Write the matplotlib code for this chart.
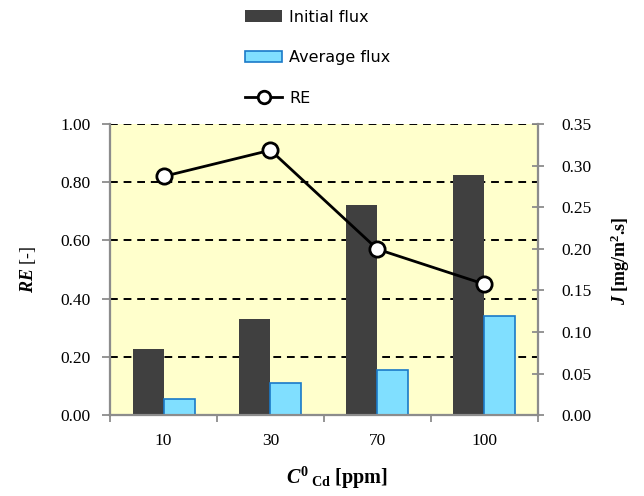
import numpy as np
import matplotlib
matplotlib.use("Agg")
import matplotlib.pyplot as plt
from matplotlib.patches import Patch
from matplotlib.lines import Line2D

plt.rcParams['font.family'] = ['Liberation Serif', 'DejaVu Serif']
plt.rcParams['mathtext.fontset'] = 'custom'
plt.rcParams['mathtext.rm'] = 'Liberation Serif:bold'
plt.rcParams['mathtext.it'] = 'Liberation Serif:italic:bold'
plt.rcParams['mathtext.bf'] = 'Liberation Serif:bold'

# data
concentrations = ['10', '30', '70', '100']
initial_flux = [0.079, 0.115, 0.253, 0.289]
average_flux = [0.020, 0.039, 0.054, 0.119]
re_values = [0.82, 0.91, 0.57, 0.45]

x = np.arange(len(concentrations))
w = 0.29
spine_col = '#8c8c8c'

fig = plt.figure(figsize=(6.44, 4.96), dpi=100)
ax = fig.add_axes([0.171, 0.163, 0.664, 0.587])
ax.set_facecolor('#ffffcc')
ax.set_xlim(-0.5, 3.5)
ax.set_ylim(0, 1.0)
ax.set_yticks(np.arange(0, 1.01, 0.2))
ax.set_yticklabels(['%.2f' % v for v in np.arange(0, 1.01, 0.2)], fontsize=12.5)
ax.grid(axis='y', color='black', linestyle=(0, (4, 3)), linewidth=1.4)
ax.set_axisbelow(True)
ax.set_xticks(x)
ax.set_xticklabels(concentrations, fontsize=12.5)
ax.set_xticks(np.arange(-0.5, 3.6, 1), minor=True)
ax.tick_params(axis='x', which='major', length=0, pad=13)
ax.tick_params(axis='x', which='minor', length=5, width=1.3, color=spine_col)
ax.tick_params(axis='y', length=6, width=1.3, color=spine_col, direction='out', pad=8)
ax.set_ylabel(r'$\mathit{RE}$ [-]', fontsize=13, labelpad=16)
ax.set_xlabel(r'$\mathit{C}^{\mathbf{0}}\,{}_{\mathbf{Cd}}$ [ppm]', fontsize=14.5,
              fontweight='bold', labelpad=11)
ax.xaxis.label.set_x(0.53)

# bars on the flux axis
axj = ax.twinx()
axj.bar(x - w / 2, initial_flux, w, color='#404040', zorder=2)
axj.bar(x + w / 2, average_flux, w, color='#80dfff', edgecolor='#1a7ac8',
        linewidth=1.2, zorder=2)
axj.set_ylim(0, 0.35)
axj.set_yticks(np.arange(0, 0.351, 0.05))
axj.set_yticklabels(['%.2f' % v for v in np.arange(0, 0.351, 0.05)], fontsize=12.5)
axj.tick_params(axis='y', length=8, width=1.3, color=spine_col, direction='inout', pad=13)
axj.set_ylabel(r'$\mathit{J}$ [mg/m$^{\mathbf{2}}$.s]', fontsize=13,
               fontweight='bold', labelpad=12)
axj.yaxis.label.set_y(0.53)

# RE line on top
axl = ax.twinx()
axl.plot(x, re_values, color='black', linewidth=2, marker='o', markersize=11,
         markerfacecolor='white', markeredgecolor='black', markeredgewidth=2)
axl.set_ylim(0, 1.0)
axl.set_yticks([])
for a in (ax, axj, axl):
    for s in a.spines.values():
        s.set_color(spine_col)
        s.set_linewidth(1.5)
    a.spines['top'].set_visible(False)

handles = [
    Patch(facecolor='#404040', edgecolor='none'),
    Patch(facecolor='#80dfff', edgecolor='#1a7ac8', linewidth=1.2),
    Line2D([], [], color='black', linewidth=2, marker='o', markersize=9,
           markerfacecolor='white', markeredgecolor='black', markeredgewidth=2),
]
fig.legend(handles, ['Initial flux', 'Average flux', 'RE'],
           loc='upper left', bbox_to_anchor=(0.366, 1.0), frameon=False,
           borderaxespad=0.2,
           prop={'family': 'DejaVu Sans', 'size': 11.5},
           handlelength=2.3, handletextpad=0.45, labelspacing=1.6)

fig.savefig('out.png', dpi=100)
